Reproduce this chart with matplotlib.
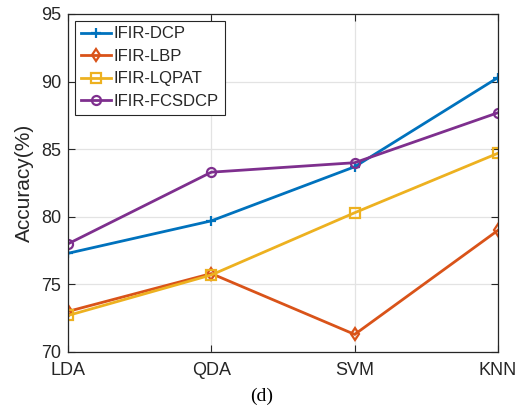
import matplotlib
matplotlib.use("Agg")
import matplotlib.pyplot as plt

plt.rcParams["font.family"] = ["Liberation Sans", "DejaVu Sans"]

CLASSIFIERS = ["LDA", "QDA", "SVM", "KNN"]
DCP = [77.3, 79.7, 83.7, 90.3]
LBP = [73.0, 75.8, 71.3, 79.0]
LQPAT = [72.7, 75.7, 80.3, 84.7]
FCSDCP = [78.0, 83.3, 84.0, 87.7]

SERIES = [
    ("IFIR-DCP", DCP, "#0072BD", "+"),
    ("IFIR-LBP", LBP, "#D95319", "d"),
    ("IFIR-LQPAT", LQPAT, "#EDB120", "s"),
    ("IFIR-FCSDCP", FCSDCP, "#7E2F8E", "o"),
]

fig = plt.figure(figsize=(5.24, 4.09), dpi=100)
ax = fig.add_axes([0.1298, 0.1394, 0.8206, 0.8264])

x = list(range(len(CLASSIFIERS)))
for name, vals, color, marker in SERIES:
    ax.plot(x, vals, color=color, linewidth=2, marker=marker, markersize=6.5,
            markerfacecolor="none", markeredgecolor=color, markeredgewidth=1.6,
            label=name)

ax.set_xlim(0, 3)
ax.set_ylim(70, 95)
ax.set_xticks(x)
ax.set_xticklabels(CLASSIFIERS)
ax.set_yticks([70, 75, 80, 85, 90, 95])
ax.grid(True, color="#e3e3e3", linewidth=0.9)
ax.set_axisbelow(True)
ax.tick_params(direction="in", labelsize=13, top=True, right=True,
               length=5, width=0.8, colors="#262626")
ax.tick_params(axis="x", pad=7)
ax.tick_params(axis="y", pad=5)
for s in ax.spines.values():
    s.set_color("#262626")
    s.set_linewidth(0.9)
ax.set_ylabel("Accuracy(%)", fontsize=15, labelpad=5, color="#262626")

leg = ax.legend(loc="upper left", fontsize=12, frameon=True, fancybox=False,
                edgecolor="#262626", framealpha=1, borderaxespad=0.4,
                handlelength=1.8, handletextpad=0.2, labelspacing=0.45,
                borderpad=0.35)
leg.get_frame().set_linewidth(0.8)
for t in leg.get_texts():
    t.set_color("#262626")

fig.text(0.5, 0.01, "(d)", ha="center", va="bottom", fontsize=14,
         family=["Liberation Serif", "DejaVu Serif"])

fig.savefig("out.png")
